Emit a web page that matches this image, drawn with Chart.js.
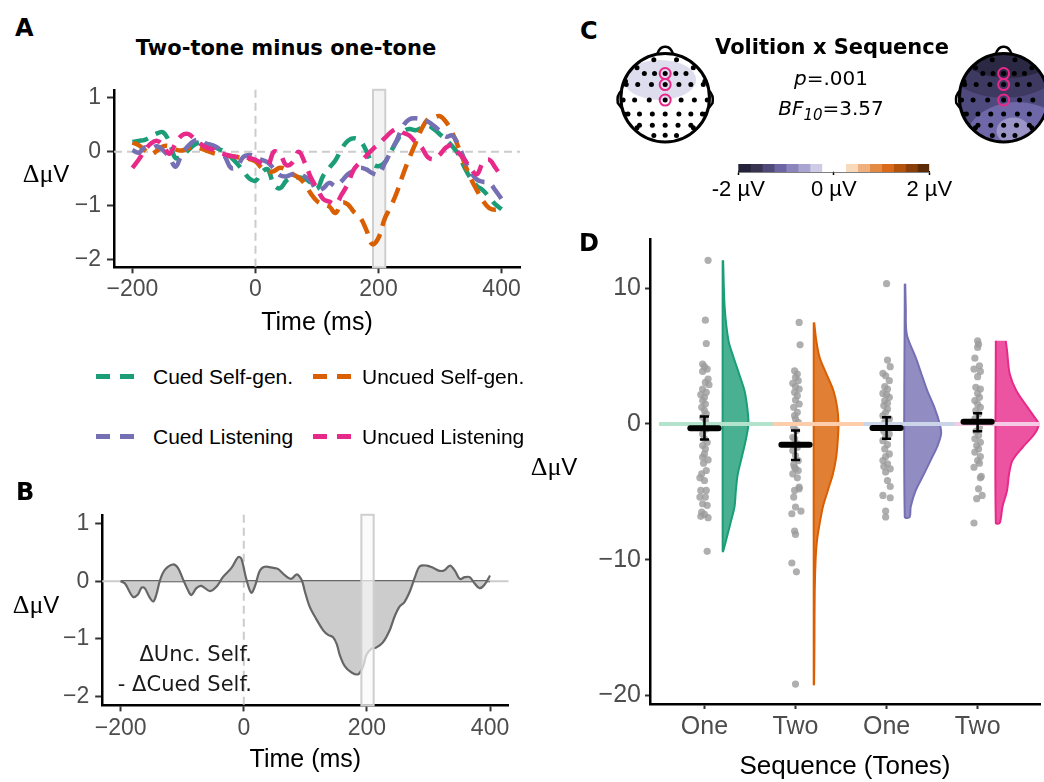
<!DOCTYPE html>
<html>
<head>
<meta charset="utf-8">
<title>Two-tone minus one-tone</title>
<script src="https://cdn.jsdelivr.net/npm/chart.js@4.4.1/dist/chart.umd.min.js"></script>
<style>
  html, body { margin: 0; padding: 0; background: #fff; }
  #page { position: relative; width: 1044px; height: 782px; overflow: hidden; font-family: "Liberation Sans", Arial, sans-serif; }
  #page canvas { position: absolute; }
  .t { position: absolute; line-height: 0; white-space: nowrap; color: #000; }
  .c { transform: translateX(-50%); }
  .r { transform: translateX(-100%); }
  .panel { font: bold 24px "DejaVu Sans", sans-serif; }
  .head { font: bold 21px "DejaVu Sans", sans-serif; }
  .dv { font-size: 24px; }
  .dv .s { font-family: "Liberation Serif", serif; font-size: 26px; }
  .key { position: absolute; width: 38px; height: 5px; }
  .key span { position: absolute; top: 0; width: 14px; height: 5px; }
  .leg { font-size: 21px; }
  .ann { font: 21px "DejaVu Sans", sans-serif; color: #1a1a1a; }
  .stat { font: 20px "DejaVu Sans", sans-serif; }
  .stat sub { font-size: 15px; vertical-align: -5px; line-height: 0; }
</style>
</head>
<body>
<div id="page">
  <canvas id="cA" width="540" height="270" style="left:0;top:70px"></canvas>
  <canvas id="cB" width="540" height="287" style="left:0;top:495px"></canvas>
  <canvas id="cC" width="454" height="110" style="left:590px;top:45px"></canvas>
  <canvas id="cBar" width="290" height="50" style="left:690px;top:155px"></canvas>
  <canvas id="cD" width="524" height="562" style="left:520px;top:220px"></canvas>

  <div class="t panel" style="left:15px;top:14px">A</div>
  <div class="t head c" style="left:286px;top:36px">Two-tone minus one-tone</div>
  <div class="t dv c" style="left:46px;top:174px"><span class="s">Δμ</span>V</div>

  <div class="key" style="left:96px;top:374px"><span style="left:0;background:#1b9e77"></span><span style="left:24px;background:#1b9e77"></span></div>
  <div class="t leg" style="left:153px;top:377px">Cued Self-gen.</div>
  <div class="key" style="left:313px;top:374px"><span style="left:0;background:#d95f02"></span><span style="left:24px;background:#d95f02"></span></div>
  <div class="t leg" style="left:362px;top:377px">Uncued Self-gen.</div>
  <div class="key" style="left:96px;top:434px"><span style="left:0;background:#7570b3"></span><span style="left:24px;background:#7570b3"></span></div>
  <div class="t leg" style="left:153px;top:437px">Cued Listening</div>
  <div class="key" style="left:313px;top:434px"><span style="left:0;background:#e7298a"></span><span style="left:24px;background:#e7298a"></span></div>
  <div class="t leg" style="left:362px;top:437px">Uncued Listening</div>

  <div class="t panel" style="left:16px;top:478px">B</div>
  <div class="t dv c" style="left:36px;top:605px"><span class="s">Δμ</span>V</div>
  <div class="t ann r" style="left:252px;top:642px">ΔUnc. Self.</div>
  <div class="t ann r" style="left:252px;top:672px">- ΔCued Self.</div>

  <div class="t panel" style="left:580px;top:17px">C</div>
  <div class="t head c" style="left:832px;top:35px">Volition x Sequence</div>
  <div class="t stat c" style="left:831px;top:66px"><i>p</i>=.001</div>
  <div class="t stat c" style="left:831px;top:96px"><i>BF</i><sub><i>10</i></sub>=3.57</div>

  <div class="t panel" style="left:579px;top:229px">D</div>
  <div class="t dv c" style="left:554px;top:467px"><span class="s">Δμ</span>V</div>
</div>

<script>
// ---------- panel A: difference waves per condition ----------
const timeMs = [-200, -190, -180, -170, -160, -150, -140, -130, -120, -110,
  -100, -90, -80, -70, -60, -50, -40, -30, -20, -10,
  0, 10, 20, 30, 40, 50, 60, 70, 80, 90,
  100, 110, 120, 130, 140, 150, 160, 170, 180, 190,
  200, 210, 220, 230, 240, 250, 260, 270, 280, 290,
  300, 310, 320, 330, 340, 350, 360, 370, 380, 390, 400];

const cuedSelf = [0.18, 0.2, 0.22, 0.28, 0.34, 0.36, 0.18, -0.12, -0.08, 0.02,
  0.12, 0.18, 0.16, 0.1, 0.05, 0.0, -0.1, -0.22, -0.36, -0.5,
  -0.54, -0.38, -0.33, -0.62, -0.68, -0.54, -0.48, -0.48, -0.5, -0.58,
  -0.69, -0.45, -0.3, -0.16, 0.05, 0.2, 0.25, 0.2, 0.02, -0.22,
  -0.27, -0.2, 0.0, 0.2, 0.37, 0.42, 0.4, 0.44, 0.48, 0.42,
  0.32, 0.22, 0.1, -0.05, -0.3, -0.5, -0.64, -0.72, -0.85, -0.98, -1.07];

const uncuedSelf = [0.17, 0.12, 0.03, -0.05, 0.02, 0.1, 0.1, 0.04, 0.02, 0.06,
  0.08, 0.06, 0.02, -0.02, -0.05, -0.08, -0.08, -0.1, -0.12, -0.14,
  -0.18, -0.3, -0.38, -0.36, -0.3, -0.34, -0.42, -0.48, -0.6, -0.78,
  -0.92, -0.98, -1.02, -1.14, -0.95, -0.98, -1.12, -1.22, -1.45, -1.72,
  -1.6, -1.25, -1.02, -0.75, -0.42, -0.12, 0.15, 0.42, 0.6, 0.64,
  0.66, 0.55, 0.35, 0.08, -0.22, -0.5, -0.72, -0.92, -1.05, -1.08, -1.05];

const cuedListen = [0.03, -0.02, 0.08, 0.06, 0.1, 0.02, -0.1, -0.28, -0.05, 0.1,
  0.2, 0.22, 0.15, 0.12, 0.06, -0.08, -0.3, -0.28, -0.1, -0.06,
  -0.1, -0.15, -0.2, -0.32, -0.44, -0.46, -0.42, -0.42, -0.46, -0.55,
  -0.72, -0.68, -0.58, -0.64, -0.55, -0.42, -0.35, -0.3, -0.33, -0.4,
  -0.42, -0.22, 0.0, 0.22, 0.48, 0.6, 0.62, 0.6, 0.56, 0.48,
  0.38, 0.28, 0.3, 0.12, -0.15, -0.38, -0.52, -0.56, -0.58, -0.72, -0.88];

const uncuedListen = [-0.3, -0.15, 0.02, 0.15, 0.2, 0.12, -0.04, 0.15, 0.3, 0.33,
  0.25, 0.15, 0.08, 0.04, -0.02, -0.05, -0.08, -0.1, -0.1, -0.12,
  -0.15, -0.22, -0.26, 0.0, -0.05, -0.25, -0.2, 0.0, -0.2, -0.48,
  -0.68, -0.88, -0.93, -0.97, -0.8, -0.6, -0.33, -0.2, -0.08, 0.04,
  0.14, 0.25, 0.36, 0.42, 0.35, 0.3, 0.18, 0.08, -0.1, -0.14,
  -0.05, 0.08, 0.12, -0.02, -0.15, -0.32, -0.42, -0.2, -0.15, -0.3, -0.47];

const seriesLabels = ['Cued Self-gen.', 'Uncued Self-gen.', 'Cued Listening', 'Uncued Listening'];
const seriesColors = ['#1b9e77', '#d95f02', '#7570b3', '#e7298a'];
const bandMs = [191, 211];

// ---------- panel B: uncued self minus cued self ----------
const diffMs = [-200, -193, -180, -172, -166, -161, -153, -147, -142, -136,
  -128, -115, -107, -99, -90, -85, -77, -69, -55, -44,
  -34, -20, -9, -4, 4, 12, 18, 26, 34, 48,
  56, 67, 77, 86, 94, 99, 107, 118, 129, 137,
  145, 151, 156, 164, 175, 186, 194, 199, 207, 215,
  226, 237, 245, 253, 261, 270, 278, 286, 297, 308,
  318, 326, 335, 343, 351, 359, 367, 375, 383, 391, 400];
const diffVal = [0, -0.04, -0.27, -0.23, -0.11, -0.12, -0.28, -0.35, -0.23, 0.02,
  0.2, 0.29, 0.23, 0.04, -0.17, -0.24, -0.12, -0.08, -0.17, -0.09,
  0.07, 0.23, 0.42, 0.39, 0.04, -0.2, -0.09, 0.18, 0.25, 0.23,
  0.21, 0.1, 0.04, 0.12, 0.02, -0.17, -0.44, -0.66, -0.85, -0.93,
  -0.97, -1.09, -1.28, -1.47, -1.58, -1.61, -1.47, -1.28, -1.17, -1.15,
  -1.06, -0.85, -0.61, -0.44, -0.36, -0.17, 0.07, 0.26, 0.27, 0.23,
  0.18, 0.19, 0.27, 0.18, 0.04, 0.07, 0.07, -0.04, -0.12, -0.06, 0.1];

// ---------- panel C: scalp maps ----------
const elecX = [-0.47, -0.24, 0, 0.24, 0.47,
  -0.88, -0.62, -0.31, 0, 0.31, 0.58, 0.86,
  -0.95, -0.69, -0.36, 0, 0.36, 0.66, 0.95,
  -0.84, -0.58, -0.29, 0, 0.31, 0.58, 0.84,
  -0.58, -0.29, 0, 0.29, 0.58, 0,
  0.897, 0.636, 0.256, -0.256, -0.636, -0.897, -0.897, -0.636, -0.256, 0.256, 0.636, 0.897];
const elecY = [0.61, 0.61, 0.61, 0.61, 0.61,
  0.33, 0.33, 0.33, 0.33, 0.33, 0.33, 0.33,
  -0.06, -0.06, -0.06, -0.06, -0.06, -0.06, -0.06,
  -0.41, -0.41, -0.41, -0.41, -0.41, -0.41, -0.41,
  -0.7, -0.7, -0.7, -0.7, -0.7, -0.95,
  0.418, 0.758, 0.956, 0.956, 0.758, 0.418, -0.418, -0.758, -0.956, -0.956, -0.758, -0.418];
const roiX = [0, 0, 0];
const roiY = [0.61, 0.33, -0.06];
const headCenters = [0, 7.642];
// contour patches per map: [cx, cy, rx, ry, colour] in head radii
const mapPatches = [
  [[-0.12, 0.4, 0.82, 0.45, '#dedded']],
  [[0, 0, 1.2, 1.2, '#4f4a7e'], [0, 0.75, 1.3, 0.75, '#3d3960'], [0.1, 1.0, 1.1, 0.55, '#2b2843'],
   [0.3, -0.95, 1.15, 0.85, '#6e68a9'], [0.22, -0.75, 0.38, 0.3, '#9a94c7']]
];

const cbEdges = [-2, -1.75, -1.5, -1.25, -1, -0.75, -0.5, -0.25, 0, 0.25, 0.5, 0.75, 1, 1.25, 1.5, 1.75, 2];
const cbColors = ['#24213a', '#38344f', '#4f4a78', '#6d66a3', '#8b85bd', '#aaa5d0', '#cdcbe5', '#ffffff',
  '#ffffff', '#f9d8bb', '#f0b07d', '#e58a45', '#d86a1a', '#b3530c', '#8a3f0a', '#5c2b08'];

// ---------- panel D: raincloud ----------
const catPos = [1, 2, 3, 4];
const seqLabels = ['One', 'Two', 'One', 'Two'];
const groupColors = ['#1b9e77', '#d95f02', '#7570b3', '#e7298a'];
const groupFills = ['rgba(27,158,119,0.8)', 'rgba(217,95,2,0.8)', 'rgba(117,112,179,0.8)', 'rgba(231,41,138,0.8)'];
const groupPastel = ['#b3e2cd', '#fdcdac', '#cbd5e8', '#f4cae4'];

const g1Y = [12.06, 7.65, 5.93, 4.41, 4.22, 4.04, 3.87, 3.31, 3.06, 2.89, 2.57, 2.33, 2.16, 1.96, 1.72, 1.47,
  1.23, 0.98, 0.74, 0.49, 0.25, -0.12, -0.37, -0.74, -1.1, -1.35, -1.59, -1.84, -2.21, -2.45, -2.65, -2.89,
  -3.43, -3.68, -3.97, -4.17, -4.9, -4.9, -5.39, -5.39, -5.88, -6.0, -6.5, -6.67, -6.81, -6.91, -9.39];
const g1Jit = [0.04, 0.01, 0.02, -0.02, 0, 0.03, -0.02, 0.04, 0.01, 0.05, -0.02, 0.02, -0.04, 0, -0.02, 0.01,
  -0.03, 0, 0.02, -0.02, 0.01, -0.01, 0.02, -0.02, 0, 0.03, -0.02, 0.01, 0, -0.02, 0.04, -0.01,
  0.02, -0.03, -0.05, 0, -0.04, 0.02, -0.05, 0.01, -0.02, 0.03, -0.03, 0, -0.04, 0.04, 0.03];
const g2Y = [7.48, 5.83, 3.92, 3.68, 3.43, 3.19, 2.99, 2.75, 2.57, 2.33, 2.08, 1.76, 1.47, 1.23, 0.86,
  0.61, 0.37, 0.12, -0.25, -0.49, -0.98, -1.1, -1.47, -1.72, -1.96, -2.33, -2.7, -2.99, -3.19, -3.31,
  -3.43, -3.68, -3.97, -4.66, -4.78, -4.9, -5.39, -6.13, -6.42, -6.62, -7.89, -8.14, -10.25, -10.9, -19.17];
const g2Jit = [0.04, 0.05, -0.01, 0.02, 0, 0.03, -0.03, 0, 0.04, -0.01, 0.02, 0, 0.04, -0.02, 0.02,
  -0.01, 0, 0.03, -0.02, 0.01, -0.03, -0.01, 0.02, 0.02, -0.03, 0, 0.03, -0.02, -0.01, 0,
  0.03, -0.03, 0.02, 0.04, 0.04, -0.01, -0.02, 0, 0.06, -0.04, -0.01, 0, -0.04, 0.01, 0];
const g3Y = [10.34, 4.71, 4.22, 3.73, 3.55, 3.19, 2.75, 2.57, 2.25, 2.16, 1.96, 1.72, 1.52, 1.35, 1.1,
  0.86, 0.61, 0.37, 0.12, -0.25, -0.54, -0.74, -0.98, -1.23, -1.52, -1.84, -2.21, -2.4, -2.7, -2.94,
  -3.14, -3.31, -3.55, -4.17, -4.61, -5.27, -5.44, -6.42, -6.86];
const g3Jit = [0, 0.01, 0.04, -0.04, -0.01, 0.03, -0.02, 0.01, -0.04, 0, 0.03, -0.02, 0.01, -0.03, 0.01,
  -0.01, -0.04, 0.03, -0.02, 0, -0.03, 0.03, -0.01, -0.04, 0.01, -0.02, 0.03, -0.01, -0.04, 0.01,
  -0.03, 0.04, -0.01, 0.01, 0.04, -0.04, 0.04, -0.01, -0.01];
const g4Y = [6.13, 5.88, 5.64, 4.85, 4.29, 4.04, 3.87, 3.48, 2.7, 2.57, 2.25, 1.96, 1.72, 1.47, 1.23,
  0.98, 0.74, 0.37, -0.25, -0.54, -0.86, -1.1, -1.35, -1.59, -1.84, -2.08, -2.4, -2.7, -2.89, -3.19,
  -3.87, -3.97, -4.78, -5.27, -5.51, -7.3];
const g4Jit = [0, 0.01, 0, -0.03, 0.02, -0.04, 0.03, 0, -0.02, 0.03, 0, 0.02, -0.03, 0, 0.03,
  -0.02, 0.01, -0.03, 0.02, -0.02, 0.01, -0.03, 0.03, -0.01, 0.01, -0.03, 0.03, 0, 0.02, -0.04,
  0.04, 0.03, 0.01, 0.05, -0.01, -0.04];

const means = [-0.32, -1.54, -0.29, 0.17];
const ciLo = [-1.15, -2.65, -1.1, -0.54];
const ciHi = [0.54, -0.49, 0.49, 0.78];

// half-violin density outlines (value, width in category units)
const vio1Y = [12.06, 8.6, 6.1, 4.9, 3.7, 2.45, 1.2, 0, -1.2, -2.45, -3.7, -4.9, -6.1, -7.35, -8.6, -9.39];
const vio1W = [0.005, 0.022, 0.065, 0.12, 0.18, 0.24, 0.27, 0.283, 0.253, 0.21, 0.166, 0.145, 0.13, 0.084, 0.036, 0.005];
const vio2Y = [7.48, 6.1, 4.9, 3.7, 2.45, 1.2, 0, -1.2, -2.45, -3.7, -4.9, -6.1, -7.35, -8.6, -9.8, -12.25, -15.9, -19.2];
const vio2W = [0.005, 0.029, 0.065, 0.138, 0.217, 0.258, 0.272, 0.264, 0.247, 0.21, 0.155, 0.101, 0.065, 0.036, 0.022, 0.011, 0.008, 0.004];
const vio3Y = [10.34, 8.6, 6.6, 4.9, 3.7, 2.45, 1.2, 0, -0.74, -1.7, -2.45, -3.7, -4.9, -6.1, -6.86];
const vio3W = [0.005, 0.011, 0.022, 0.12, 0.182, 0.247, 0.326, 0.384, 0.399, 0.355, 0.301, 0.21, 0.12, 0.065, 0.054];
const vio4Y = [6.13, 5.4, 3.7, 2.45, 1.2, 0.5, 0, -0.74, -1.7, -2.7, -3.7, -4.9, -6.1, -7.3];
const vio4W = [0.109, 0.123, 0.152, 0.225, 0.351, 0.424, 0.471, 0.424, 0.297, 0.182, 0.145, 0.123, 0.073, 0.043];

// ---------- helpers ----------
const TICK = '#4d4d4d';
const minus = v => (v < 0 ? '\u2212' + (-v) : String(v));

function axis(o) {
  return {
    type: 'linear', min: o.min, max: o.max,
    afterBuildTicks: s => { s.ticks = o.ticks.map(v => ({ value: v })); },
    afterFit: s => { if (o.w != null) s.width = o.w; if (o.h != null) s.height = o.h; },
    border: { display: true, color: '#000', width: 2.5 },
    grid: { drawOnChartArea: false, drawTicks: true, tickLength: o.tl, color: '#333', tickColor: '#333', tickWidth: 2 },
    ticks: { color: TICK, font: { family: 'Liberation Sans', size: o.fs }, padding: o.pad, callback: o.fmt || minus, maxRotation: 0, autoSkip: false },
    title: o.title
      ? { display: true, text: o.title, color: '#000', font: { family: 'Liberation Sans', size: o.tfs }, padding: { top: 0, bottom: o.tpb } }
      : { display: false }
  };
}

function drawBand(chart, o) {
  const { ctx, chartArea: a, scales: { x } } = chart;
  const x1 = x.getPixelForValue(bandMs[0]);
  const x2 = x.getPixelForValue(bandMs[1]);
  ctx.save();
  ctx.fillStyle = o.bandFill;
  ctx.fillRect(x1, a.top, x2 - x1, a.bottom - a.top);
  ctx.strokeStyle = '#cfcfcf';
  ctx.lineWidth = 2;
  ctx.strokeRect(x1, a.top, x2 - x1, a.bottom - a.top);
  ctx.restore();
}

// zero reference lines + highlighted window
const refPlugin = {
  id: 'refs',
  beforeDatasetsDraw(chart, args, o) {
    const { ctx, chartArea: a, scales: { x, y } } = chart;
    const y0 = y.getPixelForValue(0);
    const x0 = x.getPixelForValue(0);
    ctx.save();
    ctx.strokeStyle = '#cccccc';
    ctx.lineWidth = 2;
    ctx.setLineDash(o.hDash ? [8, 5] : []);
    ctx.beginPath(); ctx.moveTo(a.left, y0); ctx.lineTo(a.right, y0); ctx.stroke();
    ctx.setLineDash([8, 5]);
    ctx.beginPath(); ctx.moveTo(x0, a.top); ctx.lineTo(x0, a.bottom); ctx.stroke();
    ctx.restore();
    if (!o.bandTop) drawBand(chart, o);
  },
  afterDatasetsDraw(chart, args, o) {
    if (o.bandTop) drawBand(chart, o);
  }
};

const baseOpts = {
  responsive: false,
  animation: false,
  events: []
};

// ---------- A ----------
const seriesA = [cuedSelf, uncuedSelf, cuedListen, uncuedListen];
new Chart(document.getElementById('cA'), {
  type: 'line',
  data: {
    datasets: seriesA.map((vals, i) => ({
      label: seriesLabels[i],
      data: timeMs.map((t, k) => ({ x: t, y: vals[k] })),
      borderColor: seriesColors[i],
      borderWidth: 4.5,
      borderDash: [16, 9],
      borderCapStyle: 'butt',
      pointRadius: 0,
      tension: 0.4,
      fill: false,
      order: 3 - i
    }))
  },
  options: {
    ...baseOpts,
    layout: { padding: { top: 9.9, right: 20, left: 0, bottom: 0 } },
    plugins: { legend: { display: false }, tooltip: { enabled: false },
      refs: { hDash: true, bandTop: false, bandFill: '#f3f3f3' } },
    scales: {
      x: axis({ min: -230, max: 430, ticks: [-200, 0, 200, 400], h: 72.7, tl: 6, pad: 3, fs: 23, title: 'Time (ms)', tfs: 25, tpb: 2 }),
      y: axis({ min: -2.15, max: 1.15, ticks: [-2, -1, 0, 1], w: 114, tl: 7, pad: 6, fs: 23 })
    }
  },
  plugins: [refPlugin]
});

// ---------- B ----------
new Chart(document.getElementById('cB'), {
  type: 'line',
  data: {
    datasets: [
      {
        label: 'Unc. Self - Cued Self',
        data: diffMs.map((t, k) => ({ x: t, y: diffVal[k] })),
        borderColor: '#666666', borderWidth: 2.2, backgroundColor: '#cccccc',
        fill: 'origin', tension: 0.35, pointRadius: 0
      },
      {
        label: 'baseline',
        data: [{ x: diffMs[0], y: 0 }, { x: diffMs[diffMs.length - 1], y: 0 }],
        borderColor: '#666666', borderWidth: 2.2, pointRadius: 0, fill: false
      }
    ]
  },
  options: {
    ...baseOpts,
    layout: { padding: { top: 6.7, right: 31.5, left: 0, bottom: 0 } },
    plugins: { legend: { display: false }, tooltip: { enabled: false },
      refs: { hDash: false, bandTop: true, bandFill: 'rgba(250,250,250,0.7)' } },
    scales: {
      x: axis({ min: -230, max: 430, ticks: [-200, 0, 200, 400], h: 76.6, tl: 6, pad: 3, fs: 23, title: 'Time (ms)', tfs: 25, tpb: 7 }),
      y: axis({ min: -2.15, max: 1.15, ticks: [-2, -1, 0, 1], w: 102.2, tl: 7, pad: 6, fs: 23 })
    }
  },
  plugins: [refPlugin]
});

// ---------- C: topographies ----------
const headPlugin = {
  id: 'heads',
  beforeDatasetsDraw(chart) {
    const { ctx, scales: { x, y } } = chart;
    headCenters.forEach((hc, h) => {
      const cx = x.getPixelForValue(hc);
      const cy = y.getPixelForValue(0);
      const r = x.getPixelForValue(hc + 1) - cx;
      ctx.save();
      ctx.beginPath(); ctx.arc(cx, cy, r, 0, 2 * Math.PI);
      ctx.fillStyle = '#fff'; ctx.fill(); ctx.clip();
      mapPatches[h].forEach(p => {
        ctx.beginPath();
        ctx.ellipse(cx + p[0] * r, cy - p[1] * r, p[2] * r, p[3] * r, 0, 0, 2 * Math.PI);
        ctx.fillStyle = p[4]; ctx.fill();
      });
      ctx.restore();
      ctx.save();
      ctx.strokeStyle = '#000'; ctx.lineWidth = 3;
      ctx.beginPath(); ctx.arc(cx, cy, r, 0, 2 * Math.PI); ctx.stroke();
      ctx.lineWidth = 2.5;
      ctx.beginPath();
      ctx.moveTo(cx - 0.18 * r, cy - 0.983 * r);
      ctx.quadraticCurveTo(cx - 0.12 * r, cy - 1.16 * r, cx, cy - 1.15 * r);
      ctx.quadraticCurveTo(cx + 0.12 * r, cy - 1.16 * r, cx + 0.18 * r, cy - 0.983 * r);
      ctx.stroke();
      [-1, 1].forEach(s => {
        ctx.beginPath();
        ctx.moveTo(cx + s * 0.99 * r, cy - 0.16 * r);
        ctx.quadraticCurveTo(cx + s * 1.1 * r, cy - 0.06 * r, cx + s * 1.07 * r, cy + 0.12 * r);
        ctx.lineTo(cx + s * 0.98 * r, cy + 0.24 * r);
        ctx.stroke();
      });
      ctx.restore();
    });
  }
};

const elecPts = [];
const roiPts = [];
headCenters.forEach(hc => {
  elecX.forEach((ex, k) => elecPts.push({ x: hc + ex, y: elecY[k] }));
  roiX.forEach((rx, k) => roiPts.push({ x: hc + rx, y: roiY[k] }));
});

new Chart(document.getElementById('cC'), {
  type: 'scatter',
  data: {
    datasets: [
      { label: 'ROI', data: roiPts, pointRadius: 5.5, borderColor: '#e7298a', borderWidth: 2, backgroundColor: 'rgba(0,0,0,0)', order: 0 },
      { label: 'electrodes', data: elecPts, pointRadius: 2.5, borderWidth: 0, backgroundColor: '#000', order: 1 }
    ]
  },
  options: {
    ...baseOpts,
    layout: { padding: 0 },
    plugins: { legend: { display: false }, tooltip: { enabled: false } },
    scales: {
      x: { type: 'linear', display: false, min: -1.528, max: 8.384 },
      y: { type: 'linear', display: false, min: -1.26, max: 1.142 }
    }
  },
  plugins: [headPlugin]
});

// colour bar
new Chart(document.getElementById('cBar'), {
  type: 'bar',
  data: {
    labels: ['µV'],
    datasets: cbColors.map((c, i) => ({
      data: [[cbEdges[i], cbEdges[i + 1]]],
      backgroundColor: c, borderWidth: 0, barPercentage: 1, categoryPercentage: 1, grouped: false
    }))
  },
  options: {
    ...baseOpts,
    indexAxis: 'y',
    layout: { padding: { left: 48.3, right: 50.7, top: 9, bottom: 0 } },
    plugins: { legend: { display: false }, tooltip: { enabled: false } },
    scales: {
      x: {
        type: 'linear', min: -2, max: 2,
        afterBuildTicks: s => { s.ticks = [-2, 0, 2].map(v => ({ value: v })); },
        afterFit: s => { s.height = 33; },
        border: { display: true, color: '#000', width: 1.5 },
        grid: { drawOnChartArea: false, tickLength: 3, tickColor: '#000', tickWidth: 1.5 },
        ticks: { color: '#000', font: { family: 'Liberation Sans', size: 22 }, padding: 2, callback: v => v + ' µV', maxRotation: 0 }
      },
      y: { display: false }
    }
  }
});

// ---------- D ----------
const groupY = [g1Y, g2Y, g3Y, g4Y];
const groupJit = [g1Jit, g2Jit, g3Jit, g4Jit];
const vioY = [vio1Y, vio2Y, vio3Y, vio4Y];
const vioW = [vio1W, vio2W, vio3W, vio4W];

const statPlugin = {
  id: 'stats',
  afterDatasetsDraw(chart) {
    const { ctx, scales: { x, y } } = chart;
    ctx.save();
    ctx.strokeStyle = '#000';
    catPos.forEach((c, i) => {
      const px = x.getPixelForValue(c);
      const cap = x.getPixelForValue(c + 0.05) - px;
      const bar = x.getPixelForValue(c + 0.155) - px;
      const yl = y.getPixelForValue(ciLo[i]);
      const yh = y.getPixelForValue(ciHi[i]);
      const ym = y.getPixelForValue(means[i]);
      ctx.lineWidth = 2.5; ctx.lineCap = 'butt';
      ctx.beginPath();
      ctx.moveTo(px, yl); ctx.lineTo(px, yh);
      ctx.moveTo(px - cap, yl); ctx.lineTo(px + cap, yl);
      ctx.moveTo(px - cap, yh); ctx.lineTo(px + cap, yh);
      ctx.stroke();
      ctx.lineWidth = 6; ctx.lineCap = 'round';
      ctx.beginPath(); ctx.moveTo(px - bar, ym); ctx.lineTo(px + bar, ym); ctx.stroke();
    });
    ctx.restore();
  }
};

const dSets = [];
catPos.forEach((c, i) => {
  dSets.push({
    type: 'line', label: 'zero ' + i,
    data: [{ x: c - 0.5, y: 0 }, { x: c + 0.75, y: 0 }],
    borderColor: groupPastel[i], borderWidth: 4, pointRadius: 0, fill: false, order: 1 + i
  });
});
catPos.forEach((c, i) => {
  const edge = vioY[i].map((v, k) => ({ x: c + 0.2 + vioW[i][k], y: v }));
  const n = vioY[i].length;
  const inner = [{ x: c + 0.2, y: vioY[i][n - 1] }, { x: c + 0.2, y: vioY[i][0] }];
  dSets.push({
    type: 'line', label: 'violin ' + i,
    data: edge.concat(inner),
    borderColor: groupColors[i], borderWidth: 2, backgroundColor: groupFills[i],
    fill: 'shape', tension: 0.3, pointRadius: 0, order: 5 + i
  });
});
const ptData = [];
catPos.forEach((c, i) => groupY[i].forEach((v, k) => ptData.push({ x: c + groupJit[i][k], y: v })));
dSets.push({
  type: 'scatter', label: 'participants', data: ptData,
  pointRadius: 3.6, borderWidth: 0, backgroundColor: 'rgba(155,155,155,0.8)', order: 9
});

new Chart(document.getElementById('cD'), {
  type: 'scatter',
  data: { datasets: dSets },
  options: {
    ...baseOpts,
    layout: { padding: { top: 18, right: 0, left: 0, bottom: 0 } },
    plugins: { legend: { display: false }, tooltip: { enabled: false } },
    scales: {
      x: axis({ min: 0.402, max: 4.685, ticks: catPos, h: 78, tl: 5, pad: 3, fs: 25,
        fmt: v => seqLabels[catPos.indexOf(v)], title: 'Sequence (Tones)', tfs: 26, tpb: 0 }),
      y: axis({ min: -20.64, max: 13.63, ticks: [-20, -10, 0, 10], w: 130, tl: 5, pad: 4, fs: 25 })
    }
  },
  plugins: [statPlugin]
});
</script>
</body>
</html>
